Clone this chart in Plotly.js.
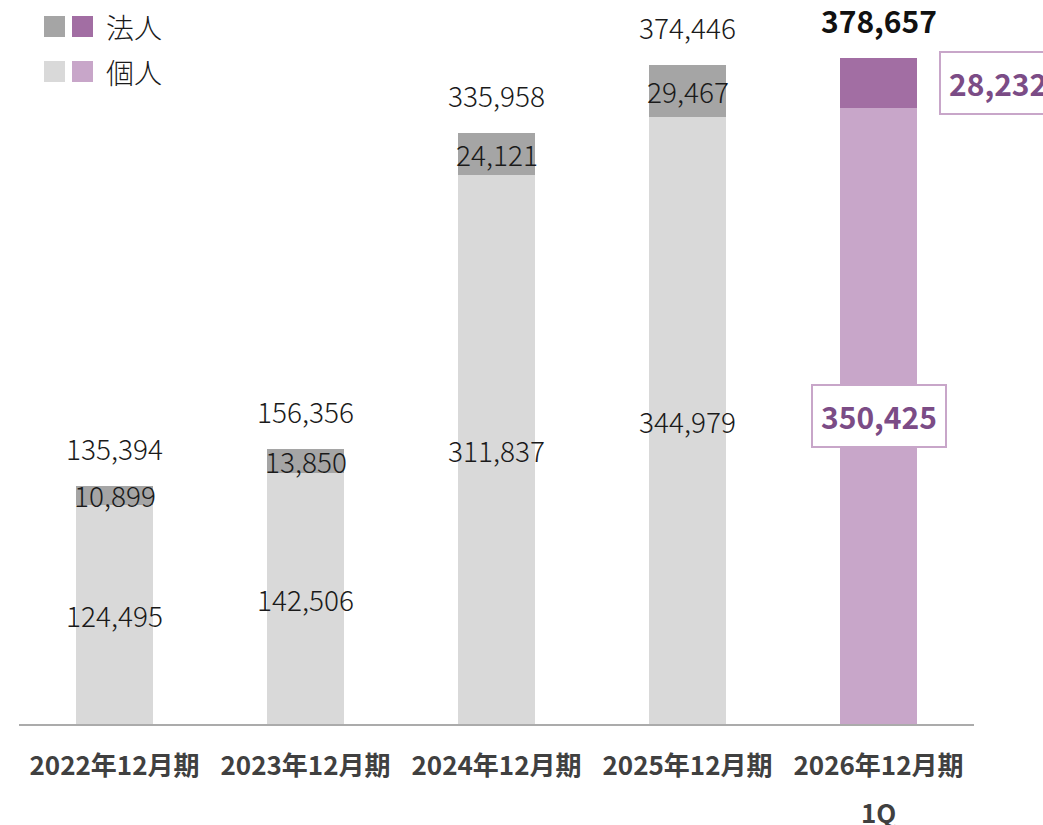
<!DOCTYPE html>
<html>
<head>
<meta charset="utf-8">
<script src="https://cdn.plot.ly/plotly-3.0.1.min.js"></script>
<style>html,body{margin:0;padding:0;background:#fff;}#chart{width:1043px;height:825px;}</style>
</head>
<body>
<div id="chart"></div>
<script>
const categories = ['2022年12月期','2023年12月期','2024年12月期','2025年12月期','2026年12月期'];
const subLabels = ['','','','','1Q'];
const kojin = [124495,142506,311837,344979,350425];
const hojin = [10899,13850,24121,29467,28232];
const totals = [135394,156356,335958,374446,378657];
const highlight = [false,false,false,false,true];

const legendNames = ['法人','個人'];

const C = {
  hojinGray:'#a5a5a5', kojinGray:'#d9d9d9',
  hojinPurple:'#a26ea3', kojinPurple:'#c8a6c9',
  purpleText:'#7b4c86', boxBorder:'#c8a6c9'
};
const FONT = '"Noto Sans CJK JP","Noto Sans",sans-serif';

const W = 1043, H = 825, mL = 19, mR = 69, mT = 0, mB = 101;
const pw = W - mL - mR, ph = H - mT - mB;
const px = x => (x - mL) / pw;
const py = y => (H - mB - y) / ph;

const traces = [
  {type:'bar', x:categories, y:kojin, name:legendNames[1], showlegend:false, hoverinfo:'skip',
   marker:{color:highlight.map(h=>h?C.kojinPurple:C.kojinGray), line:{width:0}}},
  {type:'bar', x:categories, y:hojin, name:legendNames[0], showlegend:false, hoverinfo:'skip',
   marker:{color:highlight.map(h=>h?C.hojinPurple:C.hojinGray), line:{width:0}}}
];

const ann = [];
const fmt = v => v.toLocaleString('en-US');
categories.forEach((c,i)=>{
  ann.push({x:c, y:totals[i], xref:'x', yref:'y', text:fmt(totals[i]),
    showarrow:false, yanchor:'middle', yshift:38,
    font:{family:FONT, size:highlight[i]?30:28, color:highlight[i]?'#111':'#1a1a1a', weight:highlight[i]?700:300}});
  if(!highlight[i]){
    ann.push({x:c, y:kojin[i]+hojin[i]/2, xref:'x', yref:'y', text:fmt(hojin[i]),
      showarrow:false, yanchor:'middle', font:{family:FONT, size:28, color:'#1a1a1a', weight:300}});
    ann.push({x:c, y:kojin[i]/2, xref:'x', yref:'y', text:fmt(kojin[i]),
      showarrow:false, yanchor:'middle', font:{family:FONT, size:28, color:'#1a1a1a', weight:300}});
  } else {
    ann.push({x:c, y:kojin[i]+hojin[i]/2, xref:'x', yref:'y', text:fmt(hojin[i]),
      showarrow:false, xanchor:'left', yanchor:'middle', xshift:60,
      bgcolor:'#fff', bordercolor:C.boxBorder, borderwidth:2, borderpad:8,
      font:{family:FONT, size:30, color:C.purpleText, weight:700}});
    ann.push({x:c, y:kojin[i]/2, xref:'x', yref:'y', text:fmt(kojin[i]),
      showarrow:false, yanchor:'middle',
      bgcolor:'#fff', bordercolor:C.boxBorder, borderwidth:2, borderpad:8,
      font:{family:FONT, size:30, color:C.purpleText, weight:700}});
  }
  if(subLabels[i]){
    ann.push({x:c, y:py(812), xref:'x', yref:'paper', text:subLabels[i], showarrow:false,
      yanchor:'middle', font:{family:FONT, size:26, color:'#404040', weight:700}});
  }
});

const shapes = [];
const legendRows = [
  {name:legendNames[0], cols:[C.hojinGray, C.hojinPurple], y0:16, y1:37},
  {name:legendNames[1], cols:[C.kojinGray, C.kojinPurple], y0:61, y1:82}
];
legendRows.forEach(r=>{
  [[44,65],[72,93]].forEach((xx,j)=>{
    shapes.push({type:'rect', xref:'paper', yref:'paper', x0:px(xx[0]), x1:px(xx[1]), y0:py(r.y1), y1:py(r.y0),
      fillcolor:r.cols[j], line:{width:0}});
  });
  ann.push({xref:'paper', yref:'paper', x:px(104), y:py((r.y0+r.y1)/2), xanchor:'left', yanchor:'middle',
    text:r.name, showarrow:false, font:{family:FONT, size:28, color:'#1a1a1a', weight:300}});
});

const layout = {
  width:W, height:H, margin:{l:mL, r:mR, t:mT, b:mB, pad:0},
  paper_bgcolor:'#fff', plot_bgcolor:'#fff',
  barmode:'stack', bargap:0.597, showlegend:false,
  xaxis:{type:'category', range:[-0.5, 4.5], autorange:false, showline:true, linecolor:'#ababab', linewidth:2,
    ticks:'', showgrid:false, zeroline:false,
    tickfont:{family:FONT, size:26, color:'#404040', weight:700}, ticklabelstandoff:18},
  yaxis:{range:[0, 411600], autorange:false, visible:false, showgrid:false, zeroline:false},
  annotations:ann, shapes:shapes,
  font:{family:FONT}
};
Plotly.newPlot('chart', traces, layout, {staticPlot:true, displayModeBar:false});
</script>
</body>
</html>
